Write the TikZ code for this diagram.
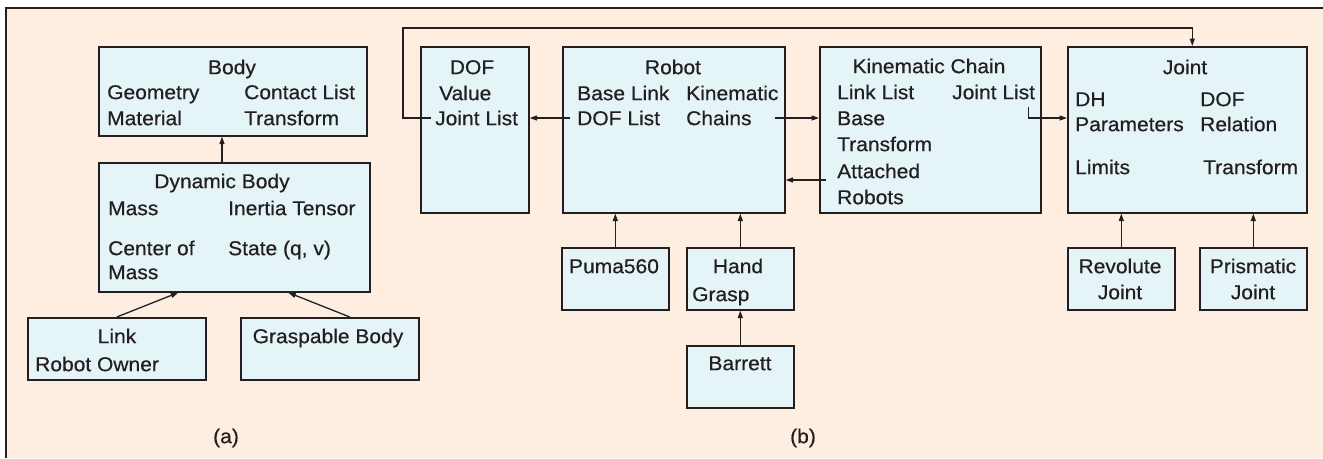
\documentclass[tikz,border=0pt]{standalone}
\usepackage{fontspec}
\setmainfont{Liberation Sans}[FakeStretch=1.05, FakeBold=0.45]
\usetikzlibrary{arrows.meta, positioning}
\definecolor{pagefill}{RGB}{253,238,225}
\definecolor{boxfill}{RGB}{228,244,247}
\definecolor{ink}{RGB}{35,31,32}

\begin{document}
\begin{tikzpicture}[
    x=1pt, y=-1pt,
    font=\fontsize{20}{24}\selectfont,
    box/.style={draw=ink, fill=boxfill, line width=1.6pt, inner sep=0pt, anchor=north west},
    item/.style={inner sep=0pt, text=ink, text height=14.3pt, text depth=0pt, anchor=west},
    title/.style={item, anchor=center},
    link/.style={draw=ink, line width=1.3pt, -{Triangle[length=7.5pt,width=5pt]}}
]
   \useasboundingbox (0,0) rectangle (1323,458);

   % Frame
   \fill[pagefill] (6,8) rectangle (1323,458);
   \draw[ink, line width=2pt] (6,458) -- (6,8) -- (1323,8);

   % (a) boxes
   \node[box, minimum width=268pt, minimum height=89pt] (body) at (98,46) {};
   \node[box, minimum width=271pt, minimum height=129pt] (dyn) at (98,162) {};
   \node[box, minimum width=178pt, minimum height=62pt] (link) at (27,317) {};
   \node[box, minimum width=178pt, minimum height=62pt] (grasp) at (240,317) {};

   \node[title] (bodytitle) at (232,67) {Body};
   \node[item] (bgeo) at (107,92) {Geometry};
   \node[item] (bmat) at (107,118) {Material};
   \node[item] (bcon) at (244,92) {Contact List};
   \node[item] (btra) at (244,118) {Transform};

   \node[title] (dyntitle) at (222,181) {Dynamic Body};
   \node[item] (dmass) at (108,208) {Mass};
   \node[item] (dine) at (228,208) {Inertia Tensor};
   \node[item] (dcen) at (108,248) {Center of};
   \node[item] (dcen2) at (108,272) {Mass};
   \node[item] (dsta) at (228,248) {State (q, v)};

   \node[title] (linktitle) at (117,336) {Link};
   \node[item] (lown) at (35,364) {Robot Owner};
   \node[title] (grasptitle) at (328,336) {Graspable Body};

   \node[title] (capa) at (226,436) {(a)};

   % (b) boxes
   \node[box, minimum width=108pt, minimum height=166pt] (dof) at (420,46) {};
   \node[box, minimum width=222pt, minimum height=166pt] (robot) at (562,46) {};
   \node[box, minimum width=221pt, minimum height=166pt] (kc) at (819,46) {};
   \node[box, minimum width=239pt, minimum height=166pt] (jnt) at (1067,46) {};
   \node[box, minimum width=107pt, minimum height=62pt] (puma) at (561,247) {};
   \node[box, minimum width=107pt, minimum height=62pt] (hand) at (686,247) {};
   \node[box, minimum width=107pt, minimum height=62pt] (barrett) at (686,345) {};
   \node[box, minimum width=107pt, minimum height=62pt] (rev) at (1067,247) {};
   \node[box, minimum width=107pt, minimum height=62pt] (pris) at (1199,247) {};

   \node[title] (doftitle) at (472,67) {DOF};
   \node[item] (dval) at (439,93) {Value};
   \node[item] (djl) at (435,118) {Joint List};

   \node[title] (robottitle) at (673,67) {Robot};
   \node[item] (rbase) at (577,93) {Base Link};
   \node[item] (rdof) at (577,118) {DOF List};
   \node[item] (rkin) at (686,93) {Kinematic};
   \node[item] (rch) at (686,118) {Chains};

   \node[title] (kctitle) at (929,66) {Kinematic Chain};
   \node[item] (kll) at (837,92) {Link List};
   \node[item] (kjl) at (952,92) {Joint List};
   \node[item] (kbase) at (837,118) {Base};
   \node[item] (ktra) at (837,144) {Transform};
   \node[item] (katt) at (837,171) {Attached};
   \node[item] (krob) at (837,197) {Robots};

   \node[title] (jnttitle) at (1185,67) {Joint};
   \node[item] (jdh) at (1075,99) {DH};
   \node[item] (jpar) at (1075,124) {Parameters};
   \node[item] (jdof) at (1200,99) {DOF};
   \node[item] (jrel) at (1200,124) {Relation};
   \node[item] (jlim) at (1075,167) {Limits};
   \node[item] (jtra) at (1203,167) {Transform};

   \node[title] (pumatitle) at (614,266) {Puma560};
   \node[title] (handtitle) at (738,266) {Hand};
   \node[item] (hgrasp) at (692,294) {Grasp};
   \node[title] (barretttitle) at (740,363) {Barrett};
   \node[title] (revtitle) at (1120,266) {Revolute};
   \node[title] (revtitle2) at (1120,292) {Joint};
   \node[title] (pristitle) at (1253,266) {Prismatic};
   \node[title] (pristitle2) at (1253,292) {Joint};

   \node[title] (capb) at (803,436) {(b)};

   % Connectors (a)
   \draw[link] (dyntitle |- dyn.north) -- (dyntitle |- body.south);
   \draw[link] (link.north) -- ([xshift=-56pt]dyn.south);
   \draw[link] ([xshift=20pt]grasp.north) -- ([xshift=54pt]dyn.south);

   % Connectors (b)
   \coordinate (loop) at (403,28);
   \coordinate (attpt) at ([xshift=-11pt,yshift=-9pt]katt.west);
   \draw[link] ([xshift=-4pt]djl.west) -| (loop) -| ([xshift=5pt]jnt.north);
   \draw[link] ([xshift=-7pt]rdof.west) -- (dof.east |- rdof.west);
   \draw[link] ([xshift=-4pt]rkin.east |- rch.east) -- (kc.west |- rch.east);
   \draw[link] (attpt) -- (robot.east |- attpt);
   \draw[link] ([xshift=-7pt,yshift=-8pt]kjl.south east) |- (jnt.west |- kbase.west);
   \draw[link] (puma.north) -- (puma.north |- robot.south);
   \draw[link] (hand.north) -- (hand.north |- robot.south);
   \draw[link] (barrett.north) -- (hand.south);
   \draw[link] (rev.north) -- (rev.north |- jnt.south);
   \draw[link] (pris.north) -- (pris.north |- jnt.south);
\end{tikzpicture}
\end{document}
